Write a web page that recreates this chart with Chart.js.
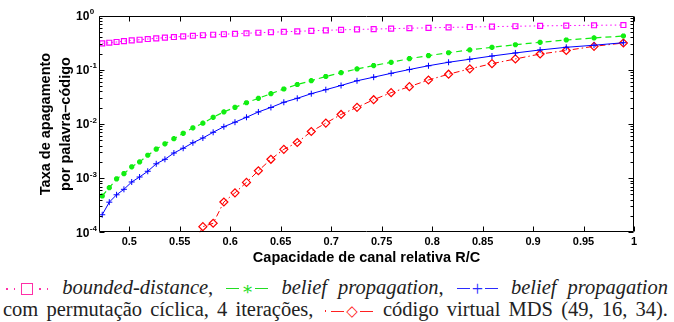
<!DOCTYPE html>
<html lang="pt">
<head>
  <meta charset="UTF-8" />
  <title>Taxa de apagamento por palavra-código</title>
  <script src="https://cdn.jsdelivr.net/npm/chart.js"></script>
  <style>
    html, body { margin: 0; padding: 0; background: #fff; }
    body { width: 674px; height: 322px; position: relative; overflow: hidden; }
    #wrap { position: absolute; left: 0; top: 0; width: 674px; height: 268px; }
    .cap {
      position: absolute; left: 3px; top: 275.6px; width: 665px;
      font-family: "Liberation Serif", "Times New Roman", Times, "DejaVu Serif", serif;
      font-size: 20.5px; line-height: 22px; color: #222;
    }
    .ln { text-align: justify; text-align-last: justify; white-space: nowrap; }
    .sym { display: inline-block; white-space: nowrap; font-style: normal; }
    .sym span { display: inline-block; vertical-align: middle; }
    .dot { width: 1.6px; height: 1.6px; margin: 0 3px; background: currentColor; }
    .sq { width: 12px; height: 12px; border: 1px solid currentColor; box-sizing: border-box; margin: 0 3px; }
    .dash { width: 13px; height: 1px; background: currentColor; margin: 0 2px; }
    .ast { font-size: 18px; line-height: 18px; }
    .plus { font-size: 20px; line-height: 18px; }
    .dia { font-size: 15px; line-height: 18px; }
    .mg { color: #ff2fa8; }
    .gr { color: #22dd22; }
    .bl { color: #2b2bff; }
    .rd { color: #ff2020; }
  </style>
</head>
<body>
  <div id="wrap"><canvas id="chart" width="674" height="268"></canvas></div>

  <div class="cap">
    <div class="ln"><span class="sym mg"><span class="dot"></span><span class="dot"></span><span class="sq"></span><span class="dot"></span><span class="dot"></span></span> <em>bounded-distance</em>, <span class="sym gr"><span class="dash"></span><span class="ast">∗</span><span class="dash"></span></span> <em>belief propagation</em>, <span class="sym bl"><span class="dash"></span><span class="plus">+</span><span class="dash"></span></span> <em>belief propagation</em></div>
    <div class="ln">com permutação cíclica, 4 iterações, <span class="sym rd"><span class="dot"></span><span class="dash"></span><span class="dia">◇</span><span class="dash"></span></span> código virtual MDS (49, 16, 34).</div>
  </div>

  <script>
    // relative channel capacity R/C (x axis)
    const capacityX = [0.4732, 0.4802, 0.4874, 0.4947, 0.5024, 0.5102, 0.5183, 0.5267, 0.5353, 0.5442,
      0.5534, 0.5630, 0.5729, 0.5831, 0.5937, 0.6047, 0.6161, 0.6279, 0.6403, 0.6531,
      0.6664, 0.6803, 0.6947, 0.7098, 0.7256, 0.7421, 0.7594, 0.7775, 0.7964, 0.8163,
      0.8373, 0.8593, 0.8825, 0.9070, 0.9329, 0.9604, 0.9895];

    const boundedDistance = [0.309, 0.317, 0.327, 0.339, 0.350, 0.360, 0.371, 0.382, 0.393, 0.404,
      0.415, 0.426, 0.436, 0.445, 0.455, 0.464, 0.474, 0.485, 0.495, 0.505,
      0.515, 0.526, 0.537, 0.548, 0.558, 0.566, 0.576, 0.587, 0.597, 0.608,
      0.618, 0.629, 0.639, 0.648, 0.657, 0.665, 0.673];

    const beliefProp = [4.68e-4, 6.67e-4, 9.7e-4, 1.21e-3, 1.62e-3, 1.99e-3, 2.65e-3, 3.43e-3, 4.31e-3, 5.35e-3,
      6.74e-3, 8.51e-3, 1.035e-2, 1.33e-2, 1.67e-2, 2.03e-2, 2.47e-2, 2.98e-2, 3.63e-2, 4.43e-2,
      5.36e-2, 6.31e-2, 7.54e-2, 8.85e-2, 0.104, 0.120, 0.138, 0.161, 0.183, 0.207,
      0.233, 0.261, 0.291, 0.323, 0.356, 0.388, 0.422];

    const beliefPropCyclic = [2.11e-4, 3.6e-4, 4.93e-4, 6.22e-4, 8.49e-4, 1.05e-3, 1.34e-3, 1.84e-3, 2.23e-3, 2.91e-3,
      3.57e-3, 4.5e-3, 5.51e-3, 7.03e-3, 8.91e-3, 1.08e-2, 1.33e-2, 1.67e-2, 2.02e-2, 2.52e-2,
      2.98e-2, 3.63e-2, 4.3e-2, 5.14e-2, 6.28e-2, 7.32e-2, 8.63e-2, 0.1014, 0.119, 0.138,
      0.157, 0.180, 0.205, 0.233, 0.261, 0.285, 0.317];

    const virtualMds = [null, null, null, null, null, null, null, null, null, null,
      null, 5.5e-5, 1.27e-4, 1.47e-4, 3.63e-4, 5.36e-4, 8.35e-4, 1.37e-3, 2.23e-3, 3.41e-3,
      4.55e-3, 7.27e-3, 1.04e-2, 1.5e-2, 2.03e-2, 2.81e-2, 3.79e-2, 4.89e-2, 6.5e-2, 8.31e-2,
      0.1045, 0.130, 0.159, 0.196, 0.228, 0.272, 0.313];

    const xTicks = [0.5, 0.55, 0.6, 0.65, 0.7, 0.75, 0.8, 0.85, 0.9, 0.95, 1];
    const yDecades = [1e-4, 1e-3, 1e-2, 1e-1, 1];
    const yExponents = ['-4', '-3', '-2', '-1', '0'];
    const minorMult = [2, 3, 4, 5, 6, 7, 8, 9];

    const toPts = ys => capacityX.map((x, i) => ({ x: x, y: ys[i] }));

    // matlab style box with inward ticks + 10^n labels
    const axesBox = {
      id: 'axesBox',
      afterDraw(chart) {
        const { ctx, chartArea: a, scales } = chart;
        const xs = scales.x, ys = scales.y;
        const L = Math.round(a.left) + 0.5, R = Math.round(a.right) - 0.5;
        const T = Math.round(a.top) + 0.5, B = Math.round(a.bottom) - 0.5;
        ctx.save();
        ctx.strokeStyle = '#000';
        ctx.lineWidth = 1;
        ctx.beginPath();
        ctx.moveTo(L, T); ctx.lineTo(R, T); ctx.lineTo(R, B); ctx.lineTo(L, B); ctx.closePath();
        xTicks.forEach(v => {
          const px = Math.round(xs.getPixelForValue(v)) + 0.5;
          ctx.moveTo(px, B); ctx.lineTo(px, B - 5);
          ctx.moveTo(px, T); ctx.lineTo(px, T + 5);
        });
        yDecades.forEach((d, i) => {
          const py = Math.round(ys.getPixelForValue(d)) + 0.5;
          ctx.moveTo(L, py); ctx.lineTo(L + 5, py);
          ctx.moveTo(R, py); ctx.lineTo(R - 5, py);
          if (i < yDecades.length - 1) {
            minorMult.forEach(m => {
              const pm = Math.round(ys.getPixelForValue(d * m)) + 0.5;
              ctx.moveTo(L, pm); ctx.lineTo(L + 3, pm);
              ctx.moveTo(R, pm); ctx.lineTo(R - 3, pm);
            });
          }
        });
        ctx.stroke();

        ctx.fillStyle = '#000';
        ctx.textAlign = 'left';
        yDecades.forEach((d, i) => {
          const py = ys.getPixelForValue(d);
          const lx = a.left - 23;
          ctx.font = 'bold 12px "Liberation Sans", Arial, sans-serif';
          ctx.textBaseline = 'middle';
          ctx.fillText('10', lx, py + 1);
          const w = ctx.measureText('10').width;
          ctx.font = 'bold 8px "Liberation Sans", Arial, sans-serif';
          ctx.textBaseline = 'alphabetic';
          ctx.fillText(yExponents[i], lx + w + 0.5, py - 1.5);
        });
        ctx.restore();
      }
    };

    new Chart(document.getElementById('chart'), {
      type: 'line',
      data: {
        datasets: [
          {
            label: 'bounded-distance',
            data: toPts(boundedDistance),
            borderColor: '#ff00ff',
            borderWidth: 1,
            borderDash: [1.5, 3],
            pointStyle: 'rect',
            pointRadius: 3.5,
            pointBorderWidth: 1.2,
            pointBorderColor: '#ff00ff',
            pointBackgroundColor: 'rgba(0,0,0,0)'
          },
          {
            label: 'belief propagation',
            data: toPts(beliefProp),
            borderColor: '#11ee11',
            borderWidth: 1.2,
            borderDash: [6, 4],
            pointStyle: 'star',
            pointRadius: 2.6,
            pointBorderWidth: 2,
            pointBorderColor: '#11ee11',
            pointBackgroundColor: '#11ee11'
          },
          {
            label: 'belief propagation com permutação cíclica, 4 iterações',
            data: toPts(beliefPropCyclic),
            borderColor: '#0000ff',
            borderWidth: 1,
            pointStyle: 'cross',
            pointRadius: 3,
            pointBorderWidth: 1,
            pointBorderColor: '#0000ff'
          },
          {
            label: 'código virtual MDS (49, 16, 34)',
            data: toPts(virtualMds),
            borderColor: '#ff0000',
            borderWidth: 1,
            borderDash: [6, 3, 1.5, 3],
            pointStyle: 'rectRot',
            pointRadius: 4,
            pointBorderWidth: 1.2,
            pointBorderColor: '#ff0000',
            pointBackgroundColor: 'rgba(0,0,0,0)'
          }
        ]
      },
      options: {
        responsive: false,
        animation: false,
        devicePixelRatio: 1,
        events: [],
        layout: { padding: { left: 36.75, right: 40, top: 15.7, bottom: 0 } },
        elements: { line: { tension: 0 } },
        plugins: { legend: { display: false }, tooltip: { enabled: false } },
        scales: {
          x: {
            type: 'linear',
            min: 0.47,
            max: 1.0,
            afterBuildTicks: s => { s.ticks = xTicks.map(v => ({ value: v })); },
            afterFit: s => { s.height = 268 - 232.3; },
            grid: { display: false, drawTicks: false },
            border: { display: false },
            ticks: {
              padding: 3,
              maxRotation: 0,
              autoSkip: false,
              color: '#000',
              font: { family: '"Liberation Sans", Arial, sans-serif', size: 11, weight: 'bold' },
              callback: v => String(+Number(v).toFixed(2))
            },
            title: {
              display: true,
              text: 'Capacidade de canal relativa R/C',
              color: '#000',
              padding: { top: 0, bottom: 1.8 },
              font: { family: '"Liberation Sans", Arial, sans-serif', size: 14.5, weight: 'bold', lineHeight: 1.2 }
            }
          },
          y: {
            type: 'logarithmic',
            min: 1e-4,
            max: 1,
            afterFit: s => { s.width = 62.25; },
            grid: { display: false, drawTicks: false },
            border: { display: false },
            ticks: { display: false },
            title: {
              display: true,
              text: ['Taxa de apagamento', 'por palavra–código'],
              color: '#000',
              padding: 0,
              font: { family: '"Liberation Sans", Arial, sans-serif', size: 14.5, weight: 'bold', lineHeight: 1.34 }
            }
          }
        }
      },
      plugins: [axesBox]
    });
  </script>
</body>
</html>
